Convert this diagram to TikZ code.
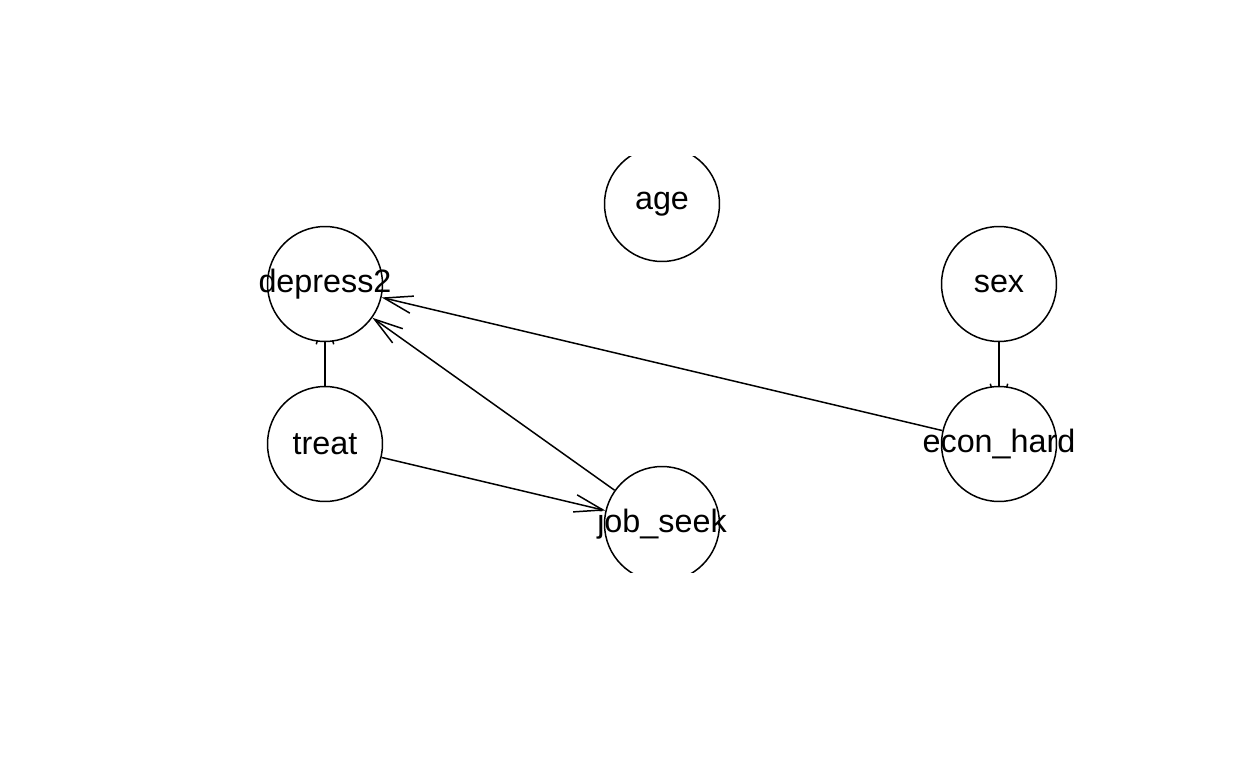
\documentclass[tikz,border=0pt]{standalone}
\usepackage{fontspec}
\setmainfont{Liberation Sans}
\usetikzlibrary{arrows.meta,backgrounds}
\tikzstyle{n}=[draw,fill=white,circle,line width=0.85pt,inner sep=0,minimum size=2.3cm,font=\fontsize{18.4}{20}\selectfont]
\tikzstyle{e}=[line width=0.85pt,-{Straight Barb[length=0.57cm,width=0.35cm]}]
\newcommand{\lbl}[1]{\raisebox{-0.04cm}{\makebox[0pt]{#1}}}

\begin{document}
\begin{tikzpicture}[x=0.02cm,y=-0.02cm]
    \useasboundingbox (0,0) rectangle (1248,768);

    \begin{scope}
        \clip (0,156) rectangle (1248,572);
                        \node[n] (age) at (662, 204) {\lbl{age}};
                        \node[n] (depress2) at (325, 284) {\lbl{depress2}};
                        \node[n] (sex) at (999, 284) {\lbl{sex}};
                        \node[n] (treat) at (325, 444) {\lbl{treat}};
                        \node[n] (econ_hard) at (999, 444) {\lbl{econ\_hard}};
                        \node[n] (job_seek) at (662, 524) {\lbl{job\_seek}};
    \end{scope}

    \begin{pgfonlayer}{background}
                        \foreach \a/\b in {job_seek/depress2, econ_hard/depress2, treat/job_seek}
                            \draw[e] (\a) -- (\b);
                        \foreach \a/\b in {treat/depress2, sex/econ_hard}
                            \draw[e,shorten >=-0.58cm] (\a) -- (\b);
    \end{pgfonlayer}

    \end{tikzpicture}
\end{document}
